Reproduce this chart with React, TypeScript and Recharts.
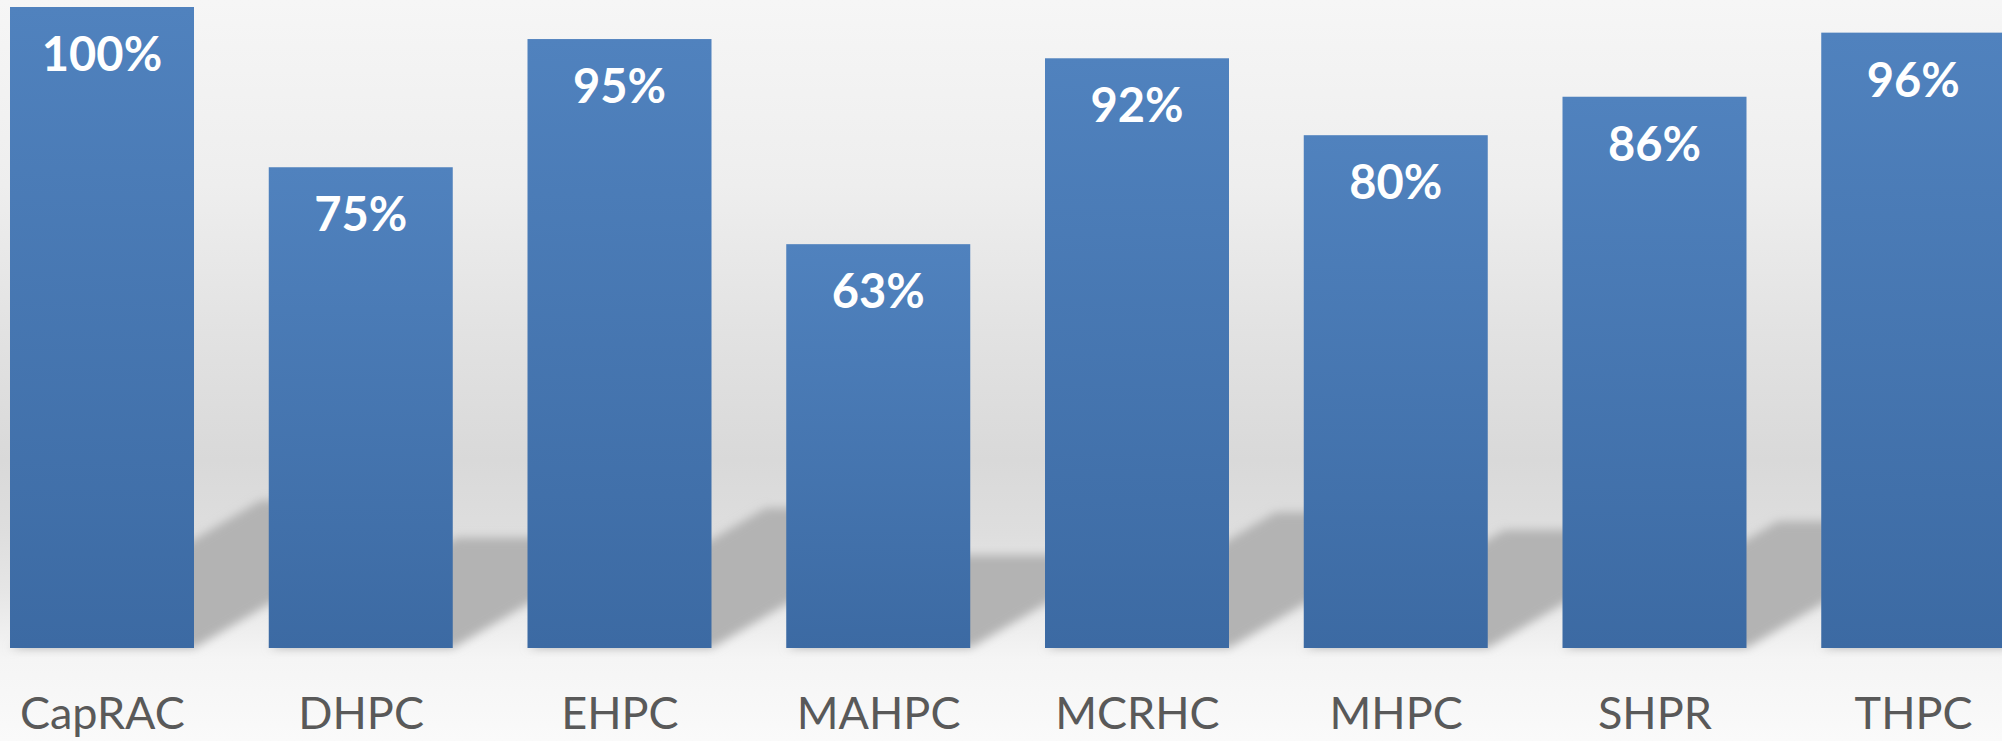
import React from "react";
import { BarChart, Bar, XAxis, YAxis, LabelList } from "recharts";

const categories: string[] = ["CapRAC", "DHPC", "EHPC", "MAHPC", "MCRHC", "MHPC", "SHPR", "THPC"];
const rates: number[] = [100, 75, 95, 63, 92, 80, 86, 96];

const chartData = categories.map((name, i) => ({ name, rate: rates[i] }));

const FONT = "Lato, 'Open Sans', sans-serif";

// bar with a soft perspective shadow thrown up and to the right
const ShadowBar = (props: any) => {
  const { x, y, width, height } = props;
  const base = y + height;
  const sh = height * 0.23;
  const d = sh * 1.7;
  const pts = [
    `${x},${base}`,
    `${x + width},${base}`,
    `${x + width + d},${base - sh}`,
    `${x + d},${base - sh}`,
  ].join(" ");
  return (
    <g>
      <polygon points={pts} fill="#b3b3b3" filter="url(#shadowBlur)" />
      <rect x={x} y={y} width={width} height={height} fill="url(#barFill)" />
    </g>
  );
};

const ValueLabel = (props: any) => {
  const { x, y, width, value } = props;
  return (
    <text
      x={x + width / 2}
      y={y + 64}
      textAnchor="middle"
      fill="#ffffff"
      fontFamily={FONT}
      fontWeight={700}
      fontSize={47}
    >
      {value}%
    </text>
  );
};

const CategoryTick = (props: any) => {
  const { x, y, payload } = props;
  return (
    <text
      x={x}
      y={y + 81}
      textAnchor="middle"
      fill="#595959"
      fontFamily={FONT}
      fontSize={45}
    >
      {payload.value}
    </text>
  );
};

export default function App() {
  return (
    <div
      style={{
        position: "absolute",
        left: 0,
        top: 0,
        width: 2002,
        height: 741,
        overflow: "hidden",
        background:
          "linear-gradient(to bottom, #f6f6f6 0%, #eeeeee 25%, #e2e2e2 45%, #d9d9d9 62%, #dedede 72%, #e6e6e6 80%, #f0f0f0 86%, #f5f5f5 89%, #fafafa 100%)",
      }}
    >
      <div style={{ position: "absolute", left: -27, top: 0 }}>
        <BarChart
          width={2070}
          height={741}
          data={chartData}
          margin={{ top: 7, right: 0, bottom: 0, left: 0 }}
          barSize={184}
        >
          <defs>
            <linearGradient id="barFill" x1="0" y1="0" x2="0" y2="1">
              <stop offset="0%" stopColor="#5082be" />
              <stop offset="100%" stopColor="#3c6aa3" />
            </linearGradient>
            <filter id="shadowBlur" x="-30%" y="-30%" width="160%" height="160%">
              <feGaussianBlur stdDeviation="5" />
            </filter>
          </defs>
          <XAxis
            dataKey="name"
            axisLine={false}
            tickLine={false}
            tickSize={0}
            tickMargin={0}
            height={93}
            interval={0}
            tick={<CategoryTick />}
          />
          <YAxis hide domain={[0, 100]} />
          <Bar dataKey="rate" shape={<ShadowBar />} isAnimationActive={false}>
            <LabelList dataKey="rate" content={<ValueLabel />} />
          </Bar>
        </BarChart>
      </div>
    </div>
  );
}
